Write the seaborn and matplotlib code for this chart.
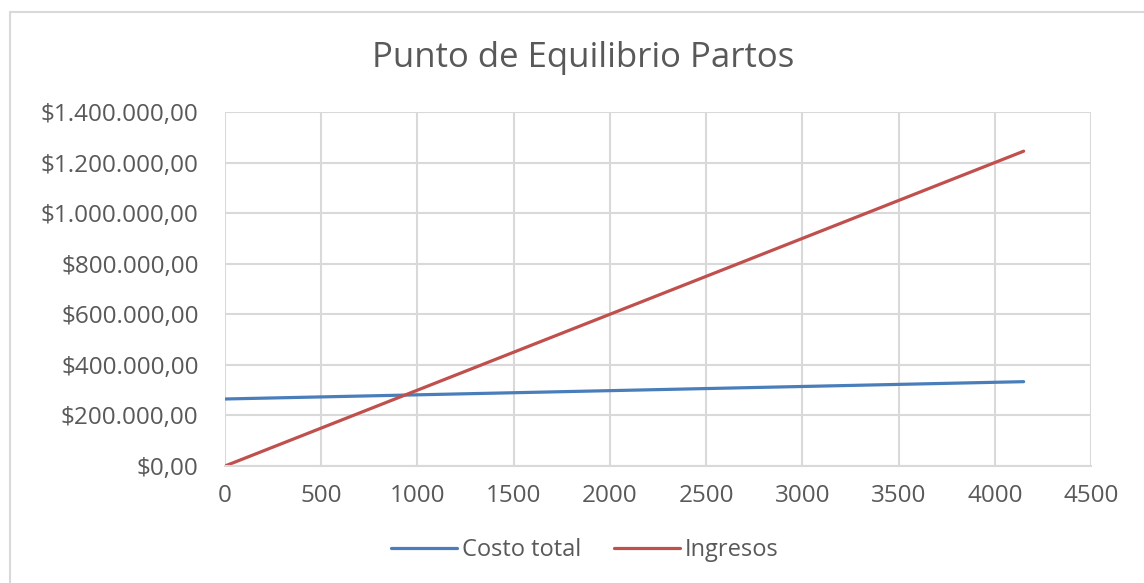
import numpy as np
import pandas as pd
import seaborn as sns
import matplotlib.pyplot as plt
from matplotlib.patches import Rectangle
from matplotlib.ticker import FuncFormatter

# units (partos) and the two series
unidades = [0, 1000, 2000, 3000, 4150]
costo_total = [265000, 281500, 298000, 314500, 333500]
ingresos = [0, 300000, 600000, 900000, 1245000]

df = pd.DataFrame({
    "Unidades": unidades * 2,
    "Valor": costo_total + ingresos,
    "Serie": ["Costo total"] * len(unidades) + ["Ingresos"] * len(unidades),
})

sns.set_style("white")
plt.rcParams['font.family'] = ['Open Sans', 'DejaVu Sans']
text_color = "#595959"
grid_color = "#d9d9d9"

fig = plt.figure(figsize=(11.44, 5.83), dpi=100)
ax = fig.add_axes([225 / 1144, 1 - 466 / 583, (1091 - 225) / 1144, (466 - 112) / 583])

# light frame round the chart area
fig.patches.append(Rectangle((10 / 1144, -0.1), 1.2, 1 - 12 / 583 + 0.1,
                             transform=fig.transFigure, fill=False,
                             edgecolor=grid_color, linewidth=1.5))

sns.lineplot(data=df, x="Unidades", y="Valor", hue="Serie",
             palette={"Costo total": "#4a7ebb", "Ingresos": "#c0504d"},
             linewidth=2.3, ax=ax, legend=False)

ax.set_xlim(0, 4500)
ax.set_ylim(0, 1400000)
ax.set_xticks(np.arange(0, 4501, 500))
ax.set_yticks(np.arange(0, 1400001, 200000))


def money(v, pos):
    s = f"{v:,.2f}".replace(",", "X").replace(".", ",").replace("X", ".")
    return "$" + s


ax.yaxis.set_major_formatter(FuncFormatter(money))
ax.grid(True, color=grid_color, linewidth=1.5)
ax.set_axisbelow(True)
for side in ["top", "right", "left"]:
    ax.spines[side].set_visible(False)
ax.spines["bottom"].set_color(grid_color)
ax.spines["bottom"].set_linewidth(1.5)
ax.tick_params(axis="both", length=0, labelsize=17.5, labelcolor=text_color)
ax.tick_params(axis="x", pad=13)
ax.tick_params(axis="y", pad=19)
ax.set_xlabel("")
ax.set_ylabel("")

fig.text(583 / 1144, 1 - 58 / 583, "Punto de Equilibrio Partos",
         ha="center", va="center", fontsize=25, color=text_color)

handles = [plt.Line2D([], [], color="#4a7ebb", linewidth=2.3),
           plt.Line2D([], [], color="#c0504d", linewidth=2.3)]
leg = fig.legend(handles, ["Costo total", "Ingresos"], loc="center",
                 bbox_to_anchor=(585 / 1144, 1 - 550 / 583), ncol=2, frameon=False,
                 fontsize=17, handlelength=2.8, handletextpad=0.2, columnspacing=1.4)
for t in leg.get_texts():
    t.set_color(text_color)

fig.savefig("out.png", dpi=100)
